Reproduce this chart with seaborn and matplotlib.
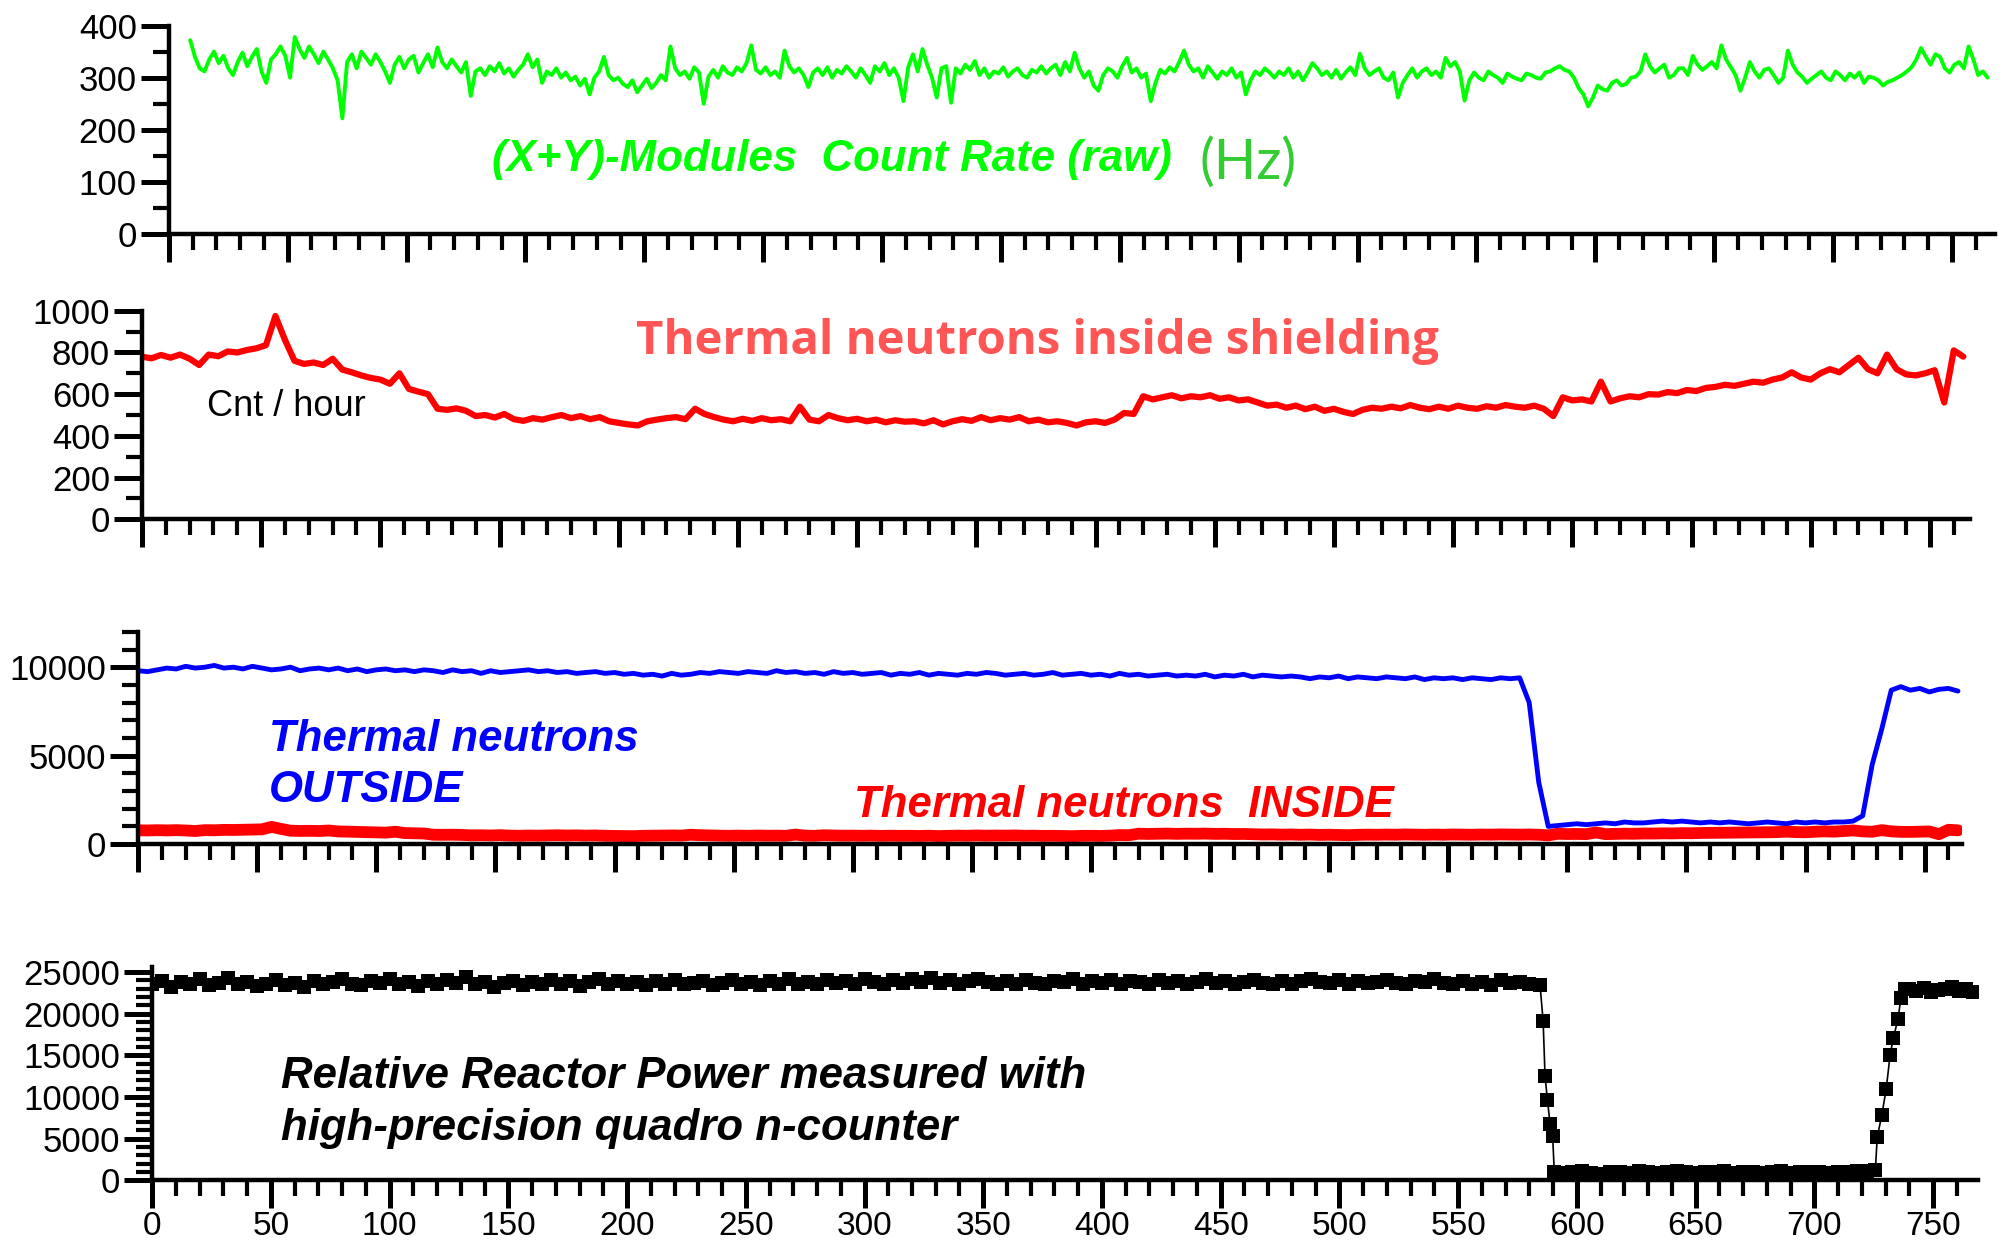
import numpy as np
import pandas as pd
import matplotlib
matplotlib.use("Agg")
import matplotlib.pyplot as plt
import seaborn as sns
from matplotlib import font_manager
from matplotlib.ticker import MultipleLocator

# ---------------------------------------------------------------- data
# Hours since start of the run (x axis shared by all four panels)
HOUR_TICKS = list(range(0, 751, 50))

# (X+Y)-modules raw count rate, Hz, sampled every 2 h from t = 9 h
modules_start, modules_step = 9, 2
modules_rate = [
    372, 340, 318, 312, 335, 350, 328, 342, 318, 305,
    330, 348, 322, 340, 355, 312, 290, 335, 345, 360,
    342, 300, 378, 355, 338, 360, 345, 328, 350, 335,
    318, 295, 222, 330, 345, 318, 350, 338, 325, 345,
    330, 312, 290, 325, 340, 318, 335, 342, 310, 328,
    345, 320, 358, 330, 318, 335, 322, 310, 330, 265,
    312, 318, 305, 322, 312, 328, 308, 318, 302, 315,
    325, 345, 320, 335, 290, 312, 305, 318, 300, 310,
    295, 302, 285, 298, 268, 300, 312, 340, 305, 295,
    300, 288, 282, 295, 272, 285, 298, 280, 290, 305,
    295, 360, 318, 305, 312, 298, 320, 310, 250, 302,
    315, 300, 322, 310, 305, 320, 312, 328, 362, 315,
    308, 320, 305, 312, 300, 352, 322, 310, 318, 305,
    282, 310, 318, 305, 320, 300, 315, 308, 322, 312,
    300, 318, 305, 290, 322, 312, 328, 305, 318, 300,
    255, 320, 345, 312, 355, 325, 300, 262, 318, 322,
    252, 318, 308, 325, 315, 332, 305, 318, 300, 312,
    308, 320, 302, 312, 318, 305, 300, 315, 310, 322,
    308, 318, 325, 305, 330, 312, 348, 318, 300, 312,
    285, 275, 305, 318, 312, 300, 322, 338, 310, 318,
    300, 308, 255, 290, 315, 308, 320, 312, 330, 352,
    325, 312, 318, 300, 322, 310, 298, 312, 305, 318,
    300, 310, 268, 295, 312, 305, 318, 310, 300, 312,
    305, 318, 300, 312, 295, 310, 328, 318, 305, 312,
    300, 315, 298, 310, 320, 305, 346, 318, 305, 312,
    318, 300, 295, 310, 262, 290, 305, 318, 300, 312,
    318, 305, 312, 300, 338, 322, 330, 312, 256, 295,
    310, 300, 295, 312, 305, 300, 290, 308, 302, 298,
    295, 308, 305, 300, 298, 310, 312, 318, 322, 315,
    312, 300, 280, 268, 245, 262, 285, 278, 275, 290,
    295, 285, 288, 300, 302, 312, 345, 322, 310, 318,
    325, 300, 305, 318, 318, 305, 342, 325, 315, 322,
    330, 318, 362, 335, 320, 305, 275, 300, 330, 312,
    300, 315, 318, 305, 290, 300, 352, 325, 310, 302,
    290, 298, 305, 312, 300, 295, 312, 305, 295, 308,
    300, 310, 290, 302, 300, 295, 285, 292, 295, 300,
    305, 312, 320, 335, 357, 340, 325, 345, 340, 318,
    310, 325, 330, 318, 360, 335, 305, 312, 300,
]

# Thermal neutrons inside the shielding, counts per hour, every 4 h from t = 0
inside_start, inside_step = 0, 4
inside_counts = [
    780, 772, 788, 775, 790, 770, 740, 790, 782, 805,
    800, 812, 820, 835, 975, 860, 760, 745, 752, 740,
    770, 718, 705, 690, 678, 670, 650, 700, 625, 612,
    600, 530, 525, 532, 520, 495, 500, 488, 505, 480,
    472, 485, 478, 490, 500, 485, 495, 480, 490, 470,
    462, 455, 450, 470, 478, 485, 490, 480, 530, 505,
    490, 478, 470, 482, 472, 485, 475, 480, 470, 540,
    478, 470, 500, 485, 475, 482, 470, 478, 465, 475,
    468, 470, 460, 475, 455, 470, 480, 472, 490, 475,
    485, 478, 490, 470, 478, 465, 470, 462, 450, 465,
    470, 462, 478, 510, 505, 590, 575, 585, 595, 580,
    590, 585, 595, 578, 585, 570, 575, 560, 545, 550,
    535, 545, 528, 540, 520, 530, 515, 505, 525, 535,
    530, 540, 532, 548, 535, 528, 540, 530, 545, 535,
    530, 542, 535, 548, 540, 535, 545, 530, 495, 585,
    570, 575, 565, 660, 565, 580, 590, 585, 600, 598,
    610, 605, 620, 615, 630, 635, 645, 640, 650, 660,
    655, 670, 680, 705, 680, 670, 700, 720, 705, 740,
    775, 720, 700, 790, 720, 695, 690, 700, 715, 560,
    810, 780,
]

# Thermal neutrons outside the shielding, counts per hour, every 4 h from t = 0
outside_start, outside_step = 0, 4
outside_counts = [
    9800, 9750, 9850, 9950, 9900, 10050, 9950, 10000, 10100, 9950,
    10000, 9900, 10050, 9950, 9850, 9900, 10000, 9800, 9900, 9950,
    9850, 9950, 9800, 9900, 9750, 9850, 9900, 9800, 9850, 9750,
    9850, 9800, 9700, 9850, 9750, 9800, 9650, 9800, 9700, 9750,
    9800, 9850, 9750, 9800, 9700, 9750, 9650, 9700, 9750, 9650,
    9700, 9600, 9650, 9550, 9600, 9500, 9650, 9550, 9600, 9700,
    9650, 9750, 9700, 9650, 9750, 9700, 9650, 9800, 9700, 9750,
    9650, 9700, 9600, 9750, 9650, 9700, 9600, 9650, 9700, 9550,
    9650, 9600, 9700, 9550, 9650, 9600, 9550, 9650, 9600, 9700,
    9650, 9550, 9600, 9650, 9550, 9600, 9700, 9550, 9600, 9650,
    9550, 9600, 9500, 9650, 9550, 9600, 9500, 9550, 9600, 9500,
    9550, 9500, 9600, 9450, 9550, 9500, 9600, 9450, 9550, 9500,
    9450, 9500, 9450, 9350, 9450, 9400, 9500, 9350, 9450, 9400,
    9350, 9450, 9400, 9350, 9450, 9300, 9400, 9350, 9400, 9300,
    9400, 9350, 9300, 9400, 9350, 9400, 8000, 3500, 1000, 1050,
    1100, 1150, 1100, 1150, 1200, 1150, 1250, 1200, 1200, 1250,
    1300, 1250, 1300, 1250, 1200, 1250, 1200, 1250, 1200, 1150,
    1200, 1250, 1200, 1150, 1250, 1200, 1250, 1200, 1250, 1250,
    1300, 1600, 4500, 6500, 8700, 8900, 8700, 8800, 8600, 8750,
    8800, 8650,
]

# Relative reactor power (quadro n-counter)
power_full_start, power_full_step = 0, 4
power_full = [
    23500, 23900, 23200, 23800, 23600, 24100, 23400, 23700, 24300, 23500,
    23800, 23300, 23600, 24000, 23400, 23700, 23200, 23900, 23500, 23800,
    24200, 23600, 23400, 23900, 23700, 24100, 23500, 23800, 23300, 23900,
    23600, 24000, 23700, 24400, 23500, 23800, 23200, 23700, 23900, 23400,
    23800, 23500, 24000, 23600, 23900, 23300, 23800, 24100, 23600, 23900,
    23500, 23800, 23400, 23900, 23600, 24000, 23500, 23700, 23900, 23400,
    23700, 24000, 23500, 23800, 23400, 23900, 23600, 24100, 23500, 23800,
    23600, 24000, 23700, 23900, 23500, 24200, 23800, 23600, 24000, 23700,
    24100, 23800, 24300, 23700, 24000, 23600, 23900, 24200, 23800, 23600,
    23900, 23600, 24000, 23700, 23500, 23900, 23800, 24100, 23600, 23900,
    23700, 24000, 23600, 23900, 23800, 23500, 24000, 23700, 23900, 23600,
    23800, 24100, 23700, 23900, 23600, 23800, 24000, 23700, 23500, 23900,
    23600, 23900, 24200, 23800, 23700, 24000, 23600, 23900, 23700, 23800,
    24000, 23700, 23600, 23900, 23800, 24100, 23700, 23600, 23900, 23500,
    23800, 23400, 24000, 23700, 23800, 23600,
]
shutdown_hours = [584.5, 585.8, 586.6, 587.6, 588.7, 589.8, 590.5]
shutdown_power = [23400, 19100, 12500, 9700, 6800, 5300, 1000]
power_low_start, power_low_step = 594, 4
power_low = [
    900, 1000, 1100, 950, 800, 1050, 1000, 900, 1100, 1000,
    950, 1050, 1150, 1000, 900, 1050, 1000, 1100, 950, 1000,
    1050, 900, 1000, 1100, 950, 1000, 1050, 1000, 900, 1050,
    1000, 1100, 1150,
]
startup_hours = [725.7, 726.5, 728.4, 730.3, 731.9, 733.3, 735.2, 736.5, 738.4]
startup_power = [1200, 5200, 7800, 11000, 15000, 17100, 19300, 21900, 22900]
power_back_start, power_back_step = 740, 3
power_back = [23000, 22700, 23100, 22600, 22800, 22900, 23200, 22700, 22900, 22600]


def series(start, step, values):
    hours = start + step * np.arange(len(values))
    return pd.DataFrame({"hour": hours, "value": values})


modules_df = series(modules_start, modules_step, modules_rate)
inside_df = series(inside_start, inside_step, inside_counts)
outside_df = series(outside_start, outside_step, outside_counts)
power_df = pd.concat([
    series(power_full_start, power_full_step, power_full),
    pd.DataFrame({"hour": shutdown_hours, "value": shutdown_power}),
    series(power_low_start, power_low_step, power_low),
    pd.DataFrame({"hour": startup_hours, "value": startup_power}),
    series(power_back_start, power_back_step, power_back),
]).sort_values("hour")

# ---------------------------------------------------------------- style
sns.set_theme(style="ticks")
plt.rcParams["font.family"] = ["Liberation Sans", "DejaVu Sans"]

# condensed face for the tick numbers when it is installed
installed = {f.name for f in font_manager.fontManager.ttflist}
if "Liberation Sans Narrow" in installed:
    TICK_FAMILY, Y_TICK_SIZE, X_TICK_SIZE = "Liberation Sans Narrow", 30, 28.5
else:
    TICK_FAMILY, Y_TICK_SIZE, X_TICK_SIZE = "Liberation Sans", 25, 24

fig = plt.figure(figsize=(20.05, 12.47), dpi=100)
fig.patch.set_facecolor("white")

GRID_W, GRID_H = 1568, 975


def frame(left, right, top, bottom):
    return [left / GRID_W, 1 - bottom / GRID_H,
            (right - left) / GRID_W, (bottom - top) / GRID_H]


def at(x, y):
    return x / GRID_W, 1 - y / GRID_H


def style_axis(ax, xmax, ymax, ymajor, yminor, xlabels=False):
    ax.set_xlim(0, xmax)
    ax.set_ylim(0, ymax)
    ax.xaxis.set_major_locator(MultipleLocator(50))
    ax.xaxis.set_minor_locator(MultipleLocator(10))
    ax.yaxis.set_major_locator(MultipleLocator(ymajor))
    ax.yaxis.set_minor_locator(MultipleLocator(yminor))
    for side in ("top", "right"):
        ax.spines[side].set_visible(False)
    for side in ("left", "bottom"):
        ax.spines[side].set_linewidth(3.2)
        ax.spines[side].set_color("black")
    ax.tick_params(which="major", direction="out", length=20, width=3.6,
                   color="black", labelcolor="black", pad=3)
    ax.tick_params(which="minor", direction="out", length=11.5, width=3.0,
                   color="black")
    ax.tick_params(axis="x", labelbottom=xlabels, pad=2)
    for lab in ax.get_yticklabels():
        lab.set_fontfamily(TICK_FAMILY)
        lab.set_fontsize(Y_TICK_SIZE)
    for lab in ax.get_xticklabels():
        lab.set_fontfamily(TICK_FAMILY)
        lab.set_fontsize(X_TICK_SIZE)
    ax.set_xlabel("")
    ax.set_ylabel("")
    ax.grid(False)
    ax.set_facecolor("none")


# ---------------------------------------------------------------- panel 1
ax1 = fig.add_axes(frame(132, 1560, 20, 183))
sns.lineplot(data=modules_df, x="hour", y="value", ax=ax1, color="#00ff00",
             lw=2.8, estimator=None, legend=False)
style_axis(ax1, 768, 400, 100, 50)

# ---------------------------------------------------------------- panel 2
ax2 = fig.add_axes(frame(111, 1541, 243, 406))
sns.lineplot(data=inside_df, x="hour", y="value", ax=ax2, color="#ff0000",
             lw=4.5, estimator=None, legend=False)
style_axis(ax2, 767, 1000, 200, 100)

# ---------------------------------------------------------------- panel 3
ax3 = fig.add_axes(frame(108, 1534, 494, 660))
sns.lineplot(data=outside_df, x="hour", y="value", ax=ax3, color="#0000ff",
             lw=3.5, estimator=None, legend=False)
sns.lineplot(data=inside_df, x="hour", y="value", ax=ax3, color="#ff0000",
             lw=8.5, estimator=None, legend=False)
style_axis(ax3, 765.5, 12000, 5000, 1000)

# ---------------------------------------------------------------- panel 4
ax4 = fig.add_axes(frame(119, 1547, 756, 923))
sns.lineplot(data=power_df, x="hour", y="value", ax=ax4, color="black",
             lw=1.2, marker="s", markersize=10, markeredgewidth=0,
             estimator=None, legend=False)
ax4.set_xticks(HOUR_TICKS)
ax4.set_xticklabels([str(h) for h in HOUR_TICKS])
style_axis(ax4, 769, 25600, 5000, 1000, xlabels=True)

# ---------------------------------------------------------------- labels
bold_italic = dict(fontsize=31.5, fontweight="bold", fontstyle="italic",
                   ha="left", va="center")

fig.text(*at(385, 125), "(X+Y)-Modules  Count Rate (raw)", color="#00ff00",
         **bold_italic)
fig.text(*at(938, 127), "(Hz)", color="#33cc33", fontsize=40,
         family=["Lato", "DejaVu Sans"], ha="left", va="center")

fig.text(*at(497, 267), "Thermal neutrons inside shielding", color="#ff5555",
         fontsize=34, fontweight="bold", family=["Open Sans", "DejaVu Sans"],
         ha="left", va="center")
fig.text(*at(162, 318), "Cnt / hour", color="black", fontsize=26,
         ha="left", va="center")

fig.text(*at(210, 578), "Thermal neutrons", color="#0000ff", **bold_italic)
fig.text(*at(210, 618), "OUTSIDE", color="#0000ff", **bold_italic)
fig.text(*at(668, 630), "Thermal neutrons  INSIDE", color="#ff0000",
         **bold_italic)

fig.text(*at(220, 842), "Relative Reactor Power measured with", color="black",
         **bold_italic)
fig.text(*at(220, 882), "high-precision quadro n-counter", color="black",
         **bold_italic)

fig.savefig("out.png", dpi=100, facecolor="white")
